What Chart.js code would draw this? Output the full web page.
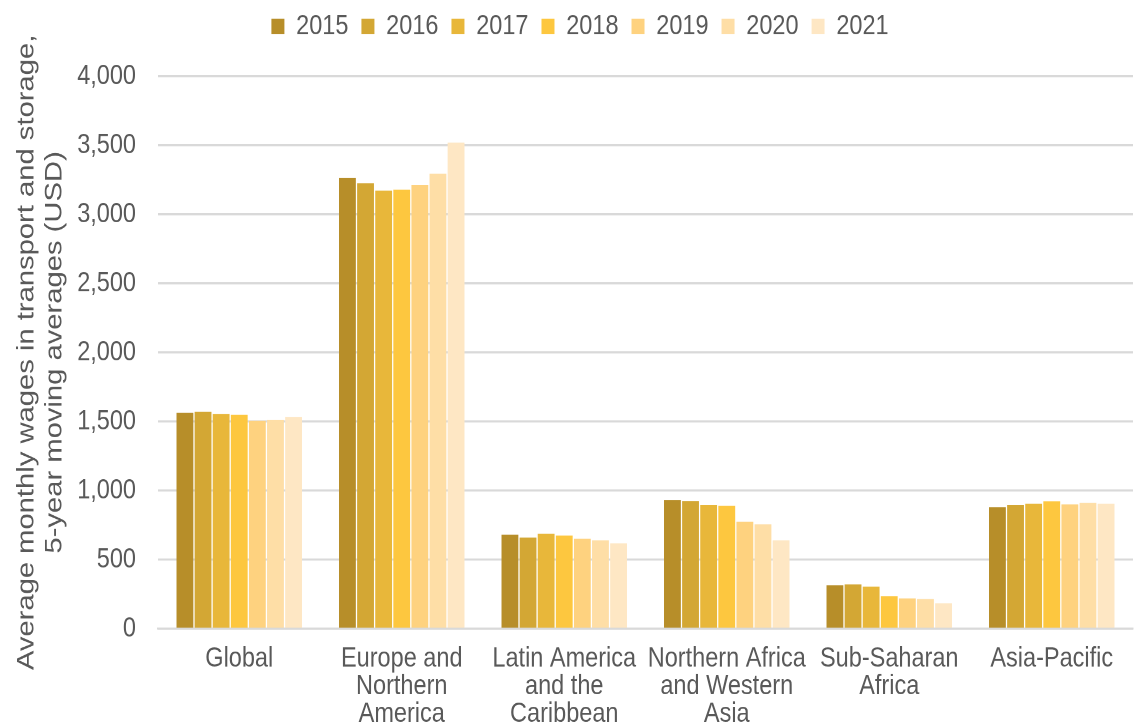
<!DOCTYPE html>
<html>
<head>
<meta charset="utf-8">
<script src="https://cdn.jsdelivr.net/npm/chart.js@4.4.1/dist/chart.umd.min.js"></script>
<style>
  html { margin: 0; padding: 0; background: #ffffff; overflow: hidden; }
  body { margin: 0; padding: 0; background: #ffffff; width: 1135px; height: 723px; }
  /* The chart is drawn at a reduced height and stretched vertically,
     which gives the tall, narrow lettering of the published figure. */
  #wrap {
    width: 1135px;
    height: 602px;
    transform: scaleY(1.201);
    transform-origin: 0 0;
  }
  #chart { display: block; }
</style>
</head>
<body>
<div id="wrap"><canvas id="chart" width="1135" height="602"></canvas></div>
<script>
// Regions (multi-line labels as arrays)
const regions = [
  ['Global'],
  ['Europe and', 'Northern', 'America'],
  ['Latin America', 'and the', 'Caribbean'],
  ['Northern Africa', 'and Western', 'Asia'],
  ['Sub-Saharan', 'Africa'],
  ['Asia-Pacific']
];

const years = ['2015', '2016', '2017', '2018', '2019', '2020', '2021'];

// Average monthly wages (USD) per year, one value per region
const wages2015 = [1562, 3264,  680, 930, 315, 880];
const wages2016 = [1570, 3224,  660, 925, 320, 895];
const wages2017 = [1555, 3170,  688, 895, 305, 905];
const wages2018 = [1548, 3178,  675, 890, 235, 922];
const wages2019 = [1505, 3212,  652, 775, 220, 900];
const wages2020 = [1512, 3293,  640, 755, 215, 910];
const wages2021 = [1533, 3518,  618, 640, 185, 905];

const yearColors = ['#B78E29', '#D3A734', '#E8B73A', '#FDC73F', '#FED27F', '#FEDEA6', '#FEE7C4'];

const series = [wages2015, wages2016, wages2017, wages2018, wages2019, wages2020, wages2021];

const textColor = '#595959';
const fontFamily = '"Liberation Sans", Arial, sans-serif';

// Legend row: extra room below it and a small nudge to the right
const legendLayout = {
  id: 'legendLayout',
  beforeInit(chart) {
    const legend = chart.legend;
    const fit = legend.fit;
    legend.fit = function () {
      fit.call(this);
      this.height += 19.5;
    };
    const draw = legend.draw;
    legend.draw = function () {
      const ctx = this.ctx;
      ctx.save();
      ctx.translate(7, 0);
      draw.call(this);
      ctx.restore();
    };
  }
};

new Chart(document.getElementById('chart'), {
  type: 'bar',
  data: {
    labels: regions,
    datasets: series.map((vals, i) => ({
      label: years[i],
      data: vals,
      backgroundColor: yearColors[i],
      borderWidth: 0,
      barPercentage: 0.93,
      categoryPercentage: 0.78
    }))
  },
  plugins: [legendLayout],
  options: {
    responsive: false,
    animation: false,
    devicePixelRatio: 2,
    layout: { padding: { left: 13, right: 2, top: -2.7, bottom: 0 } },
    plugins: {
      legend: {
        position: 'top',
        labels: {
          color: textColor,
          font: { family: fontFamily, size: 23.5 },
          boxWidth: 13,
          boxHeight: 13,
          padding: 13
        }
      },
      tooltip: { enabled: false }
    },
    scales: {
      x: {
        afterFit(axis) { axis.height = 78.5; },
        grid: { display: false },
        border: { color: '#d9d9d9', width: 1.7 },
        ticks: {
          color: textColor,
          font: { family: fontFamily, size: 23.5, lineHeight: 0.98 },
          maxRotation: 0,
          autoSkip: false,
          padding: 5.5
        }
      },
      y: {
        min: 0,
        max: 4000,
        afterFit(axis) { axis.width = 145; },
        grid: { color: '#d9d9d9', lineWidth: 1.7, drawTicks: false },
        border: { display: false },
        ticks: {
          stepSize: 500,
          color: textColor,
          font: { family: fontFamily, size: 23.5 },
          padding: 22,
          callback: v => v.toLocaleString('en-US')
        },
        title: {
          display: true,
          text: ['Average monthly wages in transport and storage,', '5-year moving averages (USD)'],
          color: textColor,
          font: { family: fontFamily, size: 24.3, lineHeight: 1.15 },
          padding: { top: 0, bottom: 8 }
        }
      }
    }
  }
});
</script>
</body>
</html>
